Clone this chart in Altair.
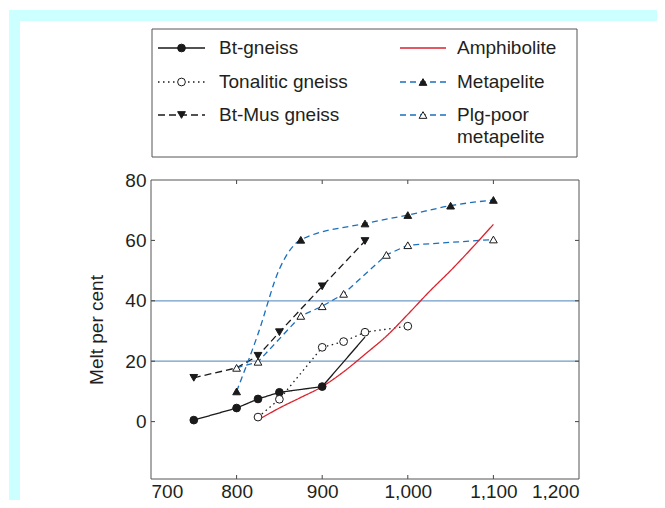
import altair as alt
import pandas as pd

# ---------------- data ----------------
SERIES = ["Bt-gneiss", "Tonalitic gneiss", "Bt-Mus gneiss",
          "Amphibolite", "Metapelite", "Plg-poor metapelite"]
COLORS = ["#1a1a1a", "#1a1a1a", "#1a1a1a", "#d9232e", "#1b6fbd", "#1b6fbd"]
DASHES = [[1, 0], [1.5, 3.5], [7, 4], [1, 0], [6, 4], [6, 4]]
SHAPES = ["circle", "circle", "triangle-down", "circle", "triangle-up", "triangle-up"]
FILLS = ["#1a1a1a", "white", "#1a1a1a", "white", "#1a1a1a", "white"]
CURVED = ["Amphibolite", "Metapelite"]

# lines (temperature, melt %)
BT_LINE_T = [750, 800, 825, 850, 900, 950]
BT_LINE_M = [0.5, 4.5, 7.5, 9.7, 11.6, 28]
TON_LINE_T = [825, 850, 900, 925, 950, 1000]
TON_LINE_M = [1.5, 7.4, 24.6, 26.5, 29.6, 31.6]
BTMUS_LINE_T = [750, 800, 825, 850, 900, 950]
BTMUS_LINE_M = [14.5, 17.8, 21.8, 29.6, 44.8, 59.8]
AMPH_LINE_T = [829, 850, 875, 900, 925, 950, 975, 1000, 1025, 1050, 1075, 1100]
AMPH_LINE_M = [1.2, 4.5, 8.0, 11.6, 16.5, 22.3, 28.3, 35.5, 43.0, 50.0, 57.5, 65.3]
META_LINE_T = [800, 825, 850, 875, 950, 1000, 1050, 1100]
META_LINE_M = [10, 29, 50.5, 60.2, 65.6, 68.4, 71.5, 73.4]
PLG_LINE_T = [800, 825, 875, 900, 925, 975, 1000, 1100]
PLG_LINE_M = [17.8, 19.8, 35.0, 38.2, 42.3, 55.2, 58.4, 60.3]

# markers
BT_PT_T = [750, 800, 825, 850, 900]
BT_PT_M = [0.5, 4.5, 7.5, 9.7, 11.6]
TON_PT_T = [825, 850, 900, 925, 950, 1000]
TON_PT_M = [1.5, 7.4, 24.6, 26.5, 29.6, 31.6]
BTMUS_PT_T = [750, 825, 850, 900, 950]
BTMUS_PT_M = [14.5, 21.8, 29.6, 44.8, 59.8]
META_PT_T = [800, 875, 950, 1000, 1050, 1100]
META_PT_M = [10, 60.2, 65.6, 68.4, 71.5, 73.4]
PLG_PT_T = [800, 825, 875, 900, 925, 975, 1000, 1100]
PLG_PT_M = [17.8, 19.8, 35.0, 38.2, 42.3, 55.2, 58.4, 60.3]

REF_LINES = [20, 40]
X_TICKS = [700, 800, 900, 1000, 1100, 1200]
X_INNER = [800, 900, 1000, 1100]
Y_TICKS = [0, 20, 40, 60, 80]
Y_INNER = [0, 20, 40, 60]

LEGEND_LINES = [["Bt-gneiss"], ["Tonalitic gneiss"], ["Bt-Mus gneiss"],
                ["Amphibolite"], ["Metapelite"], ["Plg-poor", "metapelite"]]

# ---------------- layout ----------------
W, H = 428, 299
PAD_L, PAD_T = 143, 172
X_DOM = [700, 1200]
Y_DOM = [-19, 80]
FONT = "Liberation Sans"
TXT = "#231f20"
MK = "#1a1a1a"


def tx(px):  # page x -> temperature units
    return X_DOM[0] + (px - (PAD_L + 8)) * (X_DOM[1] - X_DOM[0]) / W


def my(py):  # page y -> melt units
    return Y_DOM[1] - (py - (PAD_T + 8)) * (Y_DOM[1] - Y_DOM[0]) / H


def frame(series, T, M):
    return pd.DataFrame({"series": series, "T": T, "melt": M})


lines_df = pd.concat([
    frame(SERIES[0], BT_LINE_T, BT_LINE_M),
    frame(SERIES[1], TON_LINE_T, TON_LINE_M),
    frame(SERIES[2], BTMUS_LINE_T, BTMUS_LINE_M),
    frame(SERIES[3], AMPH_LINE_T, AMPH_LINE_M),
    frame(SERIES[4], META_LINE_T, META_LINE_M),
    frame(SERIES[5], PLG_LINE_T, PLG_LINE_M),
], ignore_index=True)
lines_df["curved"] = lines_df["series"].isin(CURVED)

pts_df = pd.concat([
    frame(SERIES[0], BT_PT_T, BT_PT_M),
    frame(SERIES[1], TON_PT_T, TON_PT_M),
    frame(SERIES[2], BTMUS_PT_T, BTMUS_PT_M),
    frame(SERIES[4], META_PT_T, META_PT_M),
    frame(SERIES[5], PLG_PT_T, PLG_PT_M),
], ignore_index=True)

# legend table (built from the series list)
ROW_Y = [48, 82, 115]
COL_X0 = [158, 400]
COL_X1 = [205, 446]
COL_TX = [219, 457]
leg_rows, leg_txt = [], []
for i, s in enumerate(SERIES):
    c, r = divmod(i, 3)
    leg_rows.append({"series": s, "T": tx(COL_X0[c]), "T2": tx(COL_X1[c]),
                     "Tm": tx((COL_X0[c] + COL_X1[c]) / 2), "melt": my(ROW_Y[r]),
                     "marker": s != "Amphibolite"})
    for k, line in enumerate(LEGEND_LINES[i]):
        leg_txt.append({"label": line, "T": tx(COL_TX[c]), "melt": my(ROW_Y[r] + 21.5 * k)})
leg_df = pd.DataFrame(leg_rows)
leg_txt_df = pd.DataFrame(leg_txt)
box_df = pd.DataFrame({"T": [tx(152)], "T2": [tx(577)], "melt": [my(29)], "melt2": [my(157)]})

# ---------------- encodings ----------------
X = alt.X("T:Q", scale=alt.Scale(domain=X_DOM, nice=False, zero=False),
          axis=alt.Axis(title=None, values=X_TICKS, format=",.0f",
                        labelExpr="replace(datum.label, '.', ',')",
                        ticks=False, domain=False,
                        grid=False, labelFontSize=19, labelPadding=3, labelColor=TXT,
                        labelFont=FONT, labelOverlap=False, zindex=2))
Y = alt.Y("melt:Q", scale=alt.Scale(domain=Y_DOM, nice=False, zero=False),
          axis=alt.Axis(title="Melt per cent", values=Y_TICKS, ticks=False, domain=False,
                        grid=False, labelFontSize=19, labelPadding=5, labelColor=TXT,
                        labelFont=FONT, labelOverlap=False, titleFont=FONT, titleFontSize=19,
                        titleFontWeight="normal", titleColor=TXT, titlePadding=18,
                        zindex=2))
COLOR = alt.Color("series:N", scale=alt.Scale(domain=SERIES, range=COLORS), legend=None)
DASH = alt.StrokeDash("series:N", scale=alt.Scale(domain=SERIES, range=DASHES), legend=None)
SHAPE = alt.Shape("series:N", scale=alt.Scale(domain=SERIES, range=SHAPES), legend=None)
FILL = alt.Fill("series:N", scale=alt.Scale(domain=SERIES, range=FILLS), legend=None)

one = pd.DataFrame({"a": [0]})
bg_cyan = alt.Chart(one).mark_rect(color="#ccffff").encode(
    x=alt.value(-142), x2=alt.value(530), y=alt.value(-170), y2=alt.value(340))
bg_white = alt.Chart(one).mark_rect(color="white").encode(
    x=alt.value(-131), x2=alt.value(530), y=alt.value(-159), y2=alt.value(340))

refs = alt.Chart(pd.DataFrame({"melt": REF_LINES})).mark_rule(
    color="#6f9bc6", strokeWidth=1.3).encode(y=Y)

lin = alt.Chart(lines_df).transform_filter("!datum.curved").mark_line(
    strokeWidth=1.3).encode(x=X, y=Y, color=COLOR, strokeDash=DASH)
cur = alt.Chart(lines_df).transform_filter("datum.curved").mark_line(
    strokeWidth=1.3, interpolate="monotone").encode(x=X, y=Y, color=COLOR, strokeDash=DASH)
pts = alt.Chart(pts_df).mark_point(size=60, strokeWidth=1, opacity=1, filled=False,
                                   color=MK).encode(x=X, y=Y, shape=SHAPE, fill=FILL)

xin = pd.DataFrame({"T": X_INNER})
yin = pd.DataFrame({"melt": Y_INNER})
tk_b = alt.Chart(xin).mark_rule(color="#444").encode(x=X, y=alt.value(H), y2=alt.value(H - 4))
tk_t = alt.Chart(xin).mark_rule(color="#444").encode(x=X, y=alt.value(0), y2=alt.value(4))
tk_l = alt.Chart(yin).mark_rule(color="#444").encode(y=Y, x=alt.value(0), x2=alt.value(4))
tk_r = alt.Chart(yin).mark_rule(color="#444").encode(y=Y, x=alt.value(W), x2=alt.value(W - 4))
plot_frame = alt.Chart(one).mark_rect(fill="transparent", stroke="#555", strokeWidth=1).encode(
    x=alt.value(0), x2=alt.value(W), y=alt.value(0), y2=alt.value(H))

leg_box = alt.Chart(box_df).mark_rect(fill="transparent", stroke="#555", strokeWidth=1).encode(
    x=X, x2="T2:Q", y=Y, y2="melt2:Q")
leg_line = alt.Chart(leg_df).mark_rule(strokeWidth=1.3).encode(
    x=X, x2="T2:Q", y=Y, color=COLOR, strokeDash=DASH)
leg_pt = alt.Chart(leg_df).transform_filter("datum.marker").mark_point(
    size=60, strokeWidth=1, opacity=1, filled=False, color=MK).encode(
    x=alt.X("Tm:Q", scale=alt.Scale(domain=X_DOM, nice=False, zero=False)),
    y=Y, shape=SHAPE, fill=FILL)
leg_text = alt.Chart(leg_txt_df).mark_text(
    align="left", baseline="middle", fontSize=19, font=FONT, color=TXT).encode(
    x=X, y=Y, text="label:N")

chart = alt.layer(
    bg_cyan, bg_white, refs, lin, cur, pts, tk_b, tk_t, tk_l, tk_r, plot_frame,
    leg_box, leg_line, leg_pt, leg_text
).properties(
    width=W, height=H,
    autosize=alt.AutoSizeParams(type="none"),
    padding={"left": PAD_L, "top": PAD_T, "right": 78, "bottom": 21},
    background="white",
).configure_view(stroke=None)

chart.save("out.html", embed_options={"renderer": "svg", "actions": False})
